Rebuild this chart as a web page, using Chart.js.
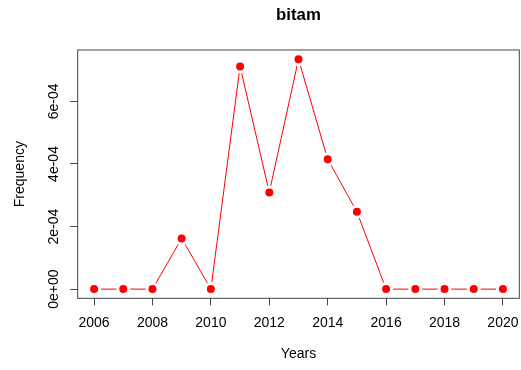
<!DOCTYPE html>
<html>
<head>
<meta charset="utf-8">
<title>bitam</title>
<script src="https://cdn.jsdelivr.net/npm/chart.js@4/dist/chart.umd.min.js"></script>
<style>
  html, body { margin: 0; padding: 0; background: #ffffff; }
  #wrap { width: 521px; height: 370px; }
  canvas { display: block; }
</style>
</head>
<body>
<div id="wrap"><canvas id="chart" width="521" height="370"></canvas></div>
<script>
// Publication frequency of "bitam" per year
const years = [2006, 2007, 2008, 2009, 2010, 2011, 2012, 2013, 2014, 2015, 2016, 2017, 2018, 2019, 2020];
const frequency = [0, 0, 0, 1.62e-4, 0, 7.12e-4, 3.09e-4, 7.35e-4, 4.15e-4, 2.47e-4, 0, 0, 0, 0, 0];

// Axis ticks and their printed labels
const xTicks = [2006, 2008, 2010, 2012, 2014, 2016, 2018, 2020];
const yTicks = [0, 2e-4, 4e-4, 6e-4];
const yTickLabels = ['0e+00', '2e-04', '4e-04', '6e-04'];

// R-style axis limits: data range padded by 4% on each side
const pad = (lo, hi) => [lo - (hi - lo) * 0.04, hi + (hi - lo) * 0.04];
const [xMin, xMax] = pad(Math.min(...years), Math.max(...years));
const [yMin, yMax] = pad(0, Math.max(...frequency));

const FONT = "'Liberation Sans', Arial, Helvetica, sans-serif";
const INK = '#000000';
const FRAME = '#444444';

// Box drawn around the plotting region
const frameBox = {
  id: 'frameBox',
  afterDraw(chart) {
    const {ctx, chartArea: a} = chart;
    ctx.save();
    ctx.strokeStyle = FRAME;
    ctx.lineWidth = 1;
    ctx.strokeRect(a.left, a.top, a.right - a.left, a.bottom - a.top);
    ctx.restore();
  }
};

new Chart(document.getElementById('chart'), {
  type: 'line',
  data: {
    datasets: [{
      data: years.map((y, i) => ({x: y, y: frequency[i]})),
      borderColor: '#ff0000',
      borderWidth: 1,
      tension: 0,
      pointRadius: 5.5,
      pointHoverRadius: 5.5,
      pointBackgroundColor: '#ff0000',
      pointBorderColor: '#ffffff',
      pointBorderWidth: 3,
      clip: false
    }]
  },
  options: {
    responsive: false,
    animation: false,
    devicePixelRatio: 1,
    layout: { autoPadding: false, padding: { left: 0, right: 1.7, top: 0, bottom: 0 } },
    plugins: {
      legend: { display: false },
      tooltip: { enabled: false },
      title: { display: false }
    },
    scales: {
      // Top axis carries only the main title, centred over the plot region
      top: {
        type: 'linear',
        position: 'top',
        min: xMin,
        max: xMax,
        afterFit(scale) {
          scale.height = 50;
          scale.paddingLeft = 0;
          scale.paddingRight = 0;
        },
        ticks: { display: false },
        grid: { display: false },
        border: { display: false },
        title: {
          display: true,
          text: 'bitam',
          color: INK,
          font: { family: FONT, size: 16.8, weight: 'bold', lineHeight: 1.2 },
          padding: { top: 4.9, bottom: 0 }
        }
      },
      x: {
        type: 'linear',
        position: 'bottom',
        min: xMin,
        max: xMax,
        afterBuildTicks(scale) { scale.ticks = xTicks.map(v => ({value: v})); },
        afterFit(scale) {
          scale.height = 71.7;
          scale.paddingLeft = 0;
          scale.paddingRight = 0;
        },
        ticks: {
          color: INK,
          autoSkip: false,
          maxRotation: 0,
          padding: 9.3,
          font: { family: FONT, size: 14, lineHeight: 1.2 },
          callback: (v) => String(v)
        },
        grid: { drawOnChartArea: false, drawTicks: true, tickLength: 7, color: FRAME, tickColor: FRAME },
        border: { display: false },
        title: {
          display: true,
          text: 'Years',
          color: INK,
          font: { family: FONT, size: 14, lineHeight: 1.2 },
          padding: { top: 0, bottom: 7.6 }
        }
      },
      y: {
        type: 'linear',
        position: 'left',
        min: yMin,
        max: yMax,
        afterBuildTicks(scale) { scale.ticks = yTicks.map(v => ({value: v})); },
        afterFit(scale) {
          scale.width = 77.7;
          scale.paddingTop = 0;
          scale.paddingBottom = 0;
        },
        ticks: {
          color: INK,
          autoSkip: false,
          minRotation: 90,
          maxRotation: 90,
          crossAlign: 'center',
          padding: -3.3,
          font: { family: FONT, size: 14, lineHeight: 1.2 },
          callback: (v) => {
            const i = yTicks.findIndex(t => Math.abs(t - v) < 1e-9);
            return i >= 0 ? yTickLabels[i] : '';
          }
        },
        grid: { drawOnChartArea: false, drawTicks: true, tickLength: 7.5, color: FRAME, tickColor: FRAME },
        border: { display: false },
        title: {
          display: true,
          text: 'Frequency',
          color: INK,
          font: { family: FONT, size: 14, lineHeight: 1.2 },
          padding: { top: 11.6, bottom: 0 }
        }
      }
    }
  },
  plugins: [frameBox]
});
</script>
</body>
</html>
